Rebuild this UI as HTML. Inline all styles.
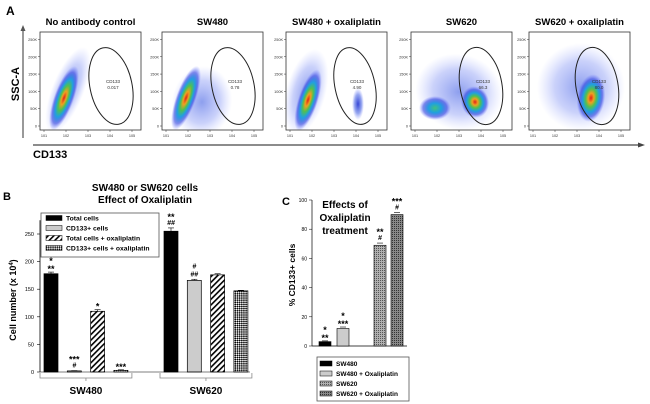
<!DOCTYPE html>
<html><head><meta charset="utf-8">
<style>
html,body{margin:0;padding:0;background:#fff;}
svg{display:block;font-family:"Liberation Sans",Arial,sans-serif;}
</style></head>
<body>
<svg id="fig" width="650" height="404" viewBox="0 0 650 404" xmlns="http://www.w3.org/2000/svg">
<defs>
  <radialGradient id="dens" cx="50%" cy="50%" r="50%">
    <stop offset="0" stop-color="#e0201a"/>
    <stop offset="0.2" stop-color="#f0a020"/>
    <stop offset="0.38" stop-color="#50c050"/>
    <stop offset="0.58" stop-color="#20a0e0"/>
    <stop offset="0.8" stop-color="#3040e0" stop-opacity="0.6"/>
    <stop offset="1" stop-color="#6070ff" stop-opacity="0"/>
  </radialGradient>
  <radialGradient id="densLow" cx="50%" cy="50%" r="50%">
    <stop offset="0" stop-color="#3050e0" stop-opacity="0.55"/>
    <stop offset="0.6" stop-color="#5068f0" stop-opacity="0.3"/>
    <stop offset="1" stop-color="#8090ff" stop-opacity="0"/>
  </radialGradient>
  <radialGradient id="densMid" cx="50%" cy="50%" r="50%">
    <stop offset="0" stop-color="#40c080"/>
    <stop offset="0.4" stop-color="#20a0e0"/>
    <stop offset="0.75" stop-color="#3040e0" stop-opacity="0.6"/>
    <stop offset="1" stop-color="#6070ff" stop-opacity="0"/>
  </radialGradient>
  <radialGradient id="densBlue" cx="50%" cy="50%" r="50%">
    <stop offset="0" stop-color="#2030d0" stop-opacity="0.9"/>
    <stop offset="0.6" stop-color="#3050e0" stop-opacity="0.5"/>
    <stop offset="1" stop-color="#6070ff" stop-opacity="0"/>
  </radialGradient>
  <pattern id="hatch" width="4" height="4" patternUnits="userSpaceOnUse" patternTransform="rotate(45)">
    <rect width="4" height="4" fill="#fff"/><rect width="1.6" height="4" fill="#000"/>
  </pattern>
  <pattern id="check" width="3" height="3" patternUnits="userSpaceOnUse" patternTransform="rotate(45)">
    <rect width="3" height="3" fill="#fff"/><rect width="1.5" height="1.5" fill="#000"/><rect x="1.5" y="1.5" width="1.5" height="1.5" fill="#000"/>
  </pattern>
  <pattern id="fine1" width="2" height="2" patternUnits="userSpaceOnUse">
    <rect width="2" height="2" fill="#b0b0b0"/><rect width="1" height="1" fill="#555"/>
  </pattern>
  <pattern id="fine2" width="2" height="2" patternUnits="userSpaceOnUse">
    <rect width="2" height="2" fill="#888"/><rect width="1" height="1" fill="#333"/>
  </pattern>
</defs>
<g id="panelA"></g>
<g id="panelB"></g>
<g id="panelC"></g>
</svg>
<script>
// ---------- Panel A data ----------
const flowTitles = ["No antibody control","SW480","SW480 + oxaliplatin","SW620","SW620 + oxaliplatin"];
const flowGateVals = ["0.017","0.78","4.90","66.3","80.0"];
const flowTicksY = ["0","50K","100K","150K","200K","250K"];
// ---------- Panel B data ----------
const bGroups = ["SW480","SW620"];
const bSeries = ["Total cells","CD133+ cells","Total cells + oxaliplatin","CD133+ cells + oxaliplatin"];
const bTotal = [178, 255];
const bCD133 = [2, 166];
const bTotalOx = [110, 176];
const bCD133Ox = [3, 147];
const bErr = [[3,6],[0.5,2],[3,2],[1,1]];
const bTicks = [0,50,100,150,200,250];
const bAnn = [["*\n**","**\n##"],["***\n#","#\n##"],["*",""],["***",""]];
// ---------- Panel C data ----------
const cCats = ["SW480","SW480 + Oxaliplatin","SW620","SW620 + Oxaliplatin"];
const cVals = [3, 12, 69, 90];
const cErr = [0.5, 1, 1.5, 1.5];
const cTicks = [0,20,40,60,80,100];
const cAnn = ["*\n**","*\n***","**\n#","***\n#"];

const NS="http://www.w3.org/2000/svg";
function mk(parent, tag, attrs, text){
  const e=document.createElementNS(NS,tag);
  for(const k in attrs) e.setAttribute(k,attrs[k]);
  if(text!==undefined) e.textContent=text;
  parent.appendChild(e); return e;
}

// ---------- Panel A ----------
(function(){
  const g=document.getElementById('panelA');
  let t=mk(g,'text',{x:6,y:15,'font-size':12,'font-weight':'bold'},'A');
  
  
  const xs=[40,162,286,411,529], top=32, w=101, h=98;
  let a=mk(g,'line',{x1:23,y1:138,x2:23,y2:29,stroke:'#555','stroke-width':1.2});
  
  
  mk(g,'path',{d:'M20.5,31 L23,25 L25.5,31 Z',fill:'#555'});
  let ya=mk(g,'text',{x:0,y:0,'font-size':11,'font-weight':'bold','text-anchor':'middle',transform:'translate(19,84) rotate(-90)'},'SSC-A');
  
  
  let xa=mk(g,'line',{x1:33,y1:145,x2:640,y2:145,stroke:'#666','stroke-width':1.5});
  
  
  mk(g,'path',{d:'M638,142.5 L645,145 L638,147.5 Z',fill:'#444'});
  let xl=mk(g,'text',{x:33,y:158,'font-size':11,'font-weight':'bold'},'CD133');
  
  
  const pops=[
    [[28,58,16,46,22,'url(#densLow)'],[24,66,10,34,20,'url(#dens)']],
    [[40,70,30,36,10,'url(#densLow)'],[24,66,10,34,20,'url(#dens)']],
    [[20,60,20,44,15,'url(#densLow)'],[22,68,10,32,18,'url(#dens)'],[72,72,6,16,0,'url(#densBlue)']],
    [[48,60,44,38,15,'url(#densLow)'],[24,76,16,12,0,'url(#densMid)'],[64,70,14,16,-15,'url(#dens)']],
    [[52,55,44,44,0,'url(#densLow)'],[62,66,14,24,8,'url(#dens)']]
  ];
  const gates=[[71,54,21,39,-12],[71,54,21,39,-12],[69,54,20,39,-12],[70,54,21,39,-10],[68,54,21,39,-10]];
  xs.forEach((x0,i)=>{
    const pg=mk(g,'g',{});
    
    
    const tt=mk(pg,'text',{x:x0+w/2,y:25,'font-size':9.5,'font-weight':'bold','text-anchor':'middle'},flowTitles[i]);
    
    
    const clip=mk(pg,'clipPath',{id:'cp'+i});
    mk(clip,'rect',{x:x0,y:top,width:w,height:h});
    const pops_g=mk(pg,'g',{'clip-path':'url(#cp'+i+')'});
    pops[i].forEach(p=>{
      const e=mk(pops_g,'ellipse',{cx:x0+p[0],cy:top+p[1],rx:p[2],ry:p[3],fill:p[5],transform:`rotate(${p[4]} ${x0+p[0]} ${top+p[1]})`});
      
      
    });
    mk(pg,'rect',{x:x0,y:top,width:w,height:h,fill:'none',stroke:'#333','stroke-width':0.8});
    const gt=gates[i];
    const ge=mk(pg,'ellipse',{cx:x0+gt[0],cy:top+gt[1],rx:gt[2],ry:gt[3],fill:'none',stroke:'#222','stroke-width':1,transform:`rotate(${gt[4]} ${x0+gt[0]} ${top+gt[1]})`});
    
    
    const gl=mk(pg,'text',{x:x0+gt[0]+2,y:top+gt[1]-3,'font-size':4.5,'text-anchor':'middle',fill:'#333'},'CD133');
    
    
    const gv=mk(pg,'text',{x:x0+gt[0]+2,y:top+gt[1]+3,'font-size':4.5,'text-anchor':'middle',fill:'#333'},flowGateVals[i]);
    
    
    flowTicksY.forEach((lab,k)=>{
      const y=top+h-4-k*(h-8)/5.2;
      mk(pg,'line',{x1:x0-2,y1:y,x2:x0,y2:y,stroke:'#333','stroke-width':0.5});
      const tl=mk(pg,'text',{x:x0-3,y:y+1.5,'font-size':3.8,'text-anchor':'end',fill:'#333'},lab);
      
      
    });
    for(let k=0;k<5;k++){
      const xx=x0+4+k*22;
      mk(pg,'line',{x1:xx,y1:top+h,x2:xx,y2:top+h+2,stroke:'#333','stroke-width':0.5});
      const tl=mk(pg,'text',{x:xx,y:top+h+7,'font-size':3.8,'text-anchor':'middle',fill:'#333'},'10'+(k+1));
      
      
    }
  });
})();

// ---------- Panel B ----------
(function(){
  const g=document.getElementById('panelB');
  const y0=372, yTop=234, vTop=250;
  const yS=v=>y0-(v/vTop)*(y0-yTop);
  const axX=40;
  const fills=['#000','#ccc','url(#hatch)','url(#check)'];
  const series=[bTotal,bCD133,bTotalOx,bCD133Ox];
  const groupStart=[44,164], bw=14, step=23.3;
  let t=mk(g,'text',{x:3,y:200,'font-size':11,'font-weight':'bold'},'B');
  
  
  let ti=mk(g,'text',{x:145,y:191,'font-size':10,'font-weight':'bold','text-anchor':'middle'},'SW480 or SW620 cells');
  
  
  let ti2=mk(g,'text',{x:145,y:203,'font-size':10,'font-weight':'bold','text-anchor':'middle'},'Effect of Oxaliplatin');
  
  
  let yl=mk(g,'text',{x:0,y:0,'font-size':9,'font-weight':'bold','text-anchor':'middle',transform:'translate(16,300) rotate(-90)'});
  
  
  yl.appendChild(document.createTextNode('Cell number (x 10'));
  mk(yl,'tspan',{'font-size':6,dy:-3},'4');
  mk(yl,'tspan',{dy:3},')');
  const ax=mk(g,'line',{x1:axX,y1:yS(275),x2:axX,y2:y0,stroke:'#000','stroke-width':0.8});
  
  
  bTicks.forEach(v=>{
    mk(g,'line',{x1:axX-3,y1:yS(v),x2:axX,y2:yS(v),stroke:'#000','stroke-width':0.6});
    const tl=mk(g,'text',{x:axX-6,y:yS(v)+2,'font-size':5.5,'text-anchor':'end'},v);
    
    
  });
  series.forEach((arr,s)=>{
    arr.forEach((v,gi)=>{
      const x=groupStart[gi]+s*step;
      const r=mk(g,'rect',{x:x,y:yS(v),width:bw,height:y0-yS(v),fill:fills[s],stroke:'#000','stroke-width':0.7});
      
      
      const e=bErr[s][gi];
      mk(g,'line',{x1:x+bw/2,y1:yS(v+e),x2:x+bw/2,y2:yS(v),stroke:'#000','stroke-width':0.6});
      mk(g,'line',{x1:x+bw/2-3,y1:yS(v+e),x2:x+bw/2+3,y2:yS(v+e),stroke:'#000','stroke-width':0.6});
      const lines=bAnn[s][gi]?bAnn[s][gi].split('\n'):[];
      lines.forEach((ln,li)=>{
        const a=mk(g,'text',{x:x+bw/2,y:yS(v+e)-3-(lines.length-1-li)*8+ (ln[0]==='*'?3:0),'font-size':ln[0]==='*'?9:7,'font-weight':'bold','font-style':ln[0]==='#'?'italic':'normal','text-anchor':'middle'},ln);
        
        
      });
    });
  });
  bGroups.forEach((gn,gi)=>{
    const x1=groupStart[gi]-4, x2=groupStart[gi]+3*step+bw+4;
    const p=mk(g,'path',{d:`M${x1},${y0+1} V${y0+6} H${x2} V${y0+1} M${(x1+x2)/2},${y0+6} V${y0+9}`,fill:'none',stroke:'#888','stroke-width':0.8});
    
    
    const l=mk(g,'text',{x:(x1+x2)/2,y:y0+22,'font-size':10,'font-weight':'bold','text-anchor':'middle'},gn);
    
    
  });
  mk(g,'line',{x1:axX,y1:y0,x2:250,y2:y0,stroke:'#000','stroke-width':0.6});
  const lg=mk(g,'g',{});
  
  
  mk(lg,'rect',{x:41,y:213,width:118,height:44,fill:'#fff',stroke:'#555','stroke-width':0.8});
  bSeries.forEach((s,i)=>{
    const y=219+i*10;
    const sw=mk(lg,'rect',{x:46,y:y-3.5,width:16,height:5,fill:fills[i],stroke:'#000','stroke-width':0.5});
    
    
    const lt=mk(lg,'text',{x:66,y:y+1.5,'font-size':6.8,'font-weight':'bold'},s);
    
    
  });
})();

// ---------- Panel C ----------
(function(){
  const g=document.getElementById('panelC');
  const y0=346, yTop=200, vTop=100, axX=312;
  const yS=v=>y0-(v/vTop)*(y0-yTop);
  const xPos=[319,337,374,391], bw=12;
  const fills=['#000','#ccc','url(#fine1)','url(#fine2)'];
  let t=mk(g,'text',{x:282,y:205,'font-size':11,'font-weight':'bold'},'C');
  
  
  ['Effects of','Oxaliplatin','treatment'].forEach((s,i)=>{
    const tt=mk(g,'text',{x:345,y:208+i*13,'font-size':10,'font-weight':'bold','text-anchor':'middle'},s);
    
    
  });
  const yl=mk(g,'text',{x:0,y:0,'font-size':8.5,'font-weight':'bold','text-anchor':'middle',transform:'translate(295,275) rotate(-90)'},'% CD133+ cells');
  
  
  const ax=mk(g,'line',{x1:axX,y1:yTop,x2:axX,y2:y0,stroke:'#000','stroke-width':0.7});
  
  
  mk(g,'line',{x1:axX,y1:y0,x2:407,y2:y0,stroke:'#000','stroke-width':0.7});
  cTicks.forEach(v=>{
    mk(g,'line',{x1:axX-3,y1:yS(v),x2:axX,y2:yS(v),stroke:'#000','stroke-width':0.5});
    const tl=mk(g,'text',{x:axX-5,y:yS(v)+2,'font-size':5,'text-anchor':'end'},v);
    
    
  });
  cVals.forEach((v,i)=>{
    const x=xPos[i];
    const r=mk(g,'rect',{x:x,y:yS(v),width:bw,height:y0-yS(v),fill:fills[i],stroke:'#000','stroke-width':0.6});
    
    
    const e=cErr[i];
    mk(g,'line',{x1:x+bw/2-3,y1:yS(v+e),x2:x+bw/2+3,y2:yS(v+e),stroke:'#000','stroke-width':0.6});
    const lines=cAnn[i].split('\n');
    lines.forEach((ln,li)=>{
      const a=mk(g,'text',{x:x+bw/2,y:yS(v+e)-3-(lines.length-1-li)*8+(ln[0]==='*'?3:0),'font-size':ln[0]==='*'?9:7,'font-weight':'bold','font-style':ln[0]==='#'?'italic':'normal','text-anchor':'middle'},ln);
      
      
    });
  });
  const lg=mk(g,'g',{});
  
  
  mk(lg,'rect',{x:317,y:357,width:92,height:44,fill:'#fff',stroke:'#555','stroke-width':0.8});
  cCats.forEach((s,i)=>{
    const y=364+i*10;
    const sw=mk(lg,'rect',{x:320,y:y-3,width:12,height:5,fill:fills[i],stroke:'#000','stroke-width':0.5});
    
    
    const lt=mk(lg,'text',{x:336,y:y+2,'font-size':6.5,'font-weight':'bold'},s);
    
    
  });
})();
</script>
</body></html>
